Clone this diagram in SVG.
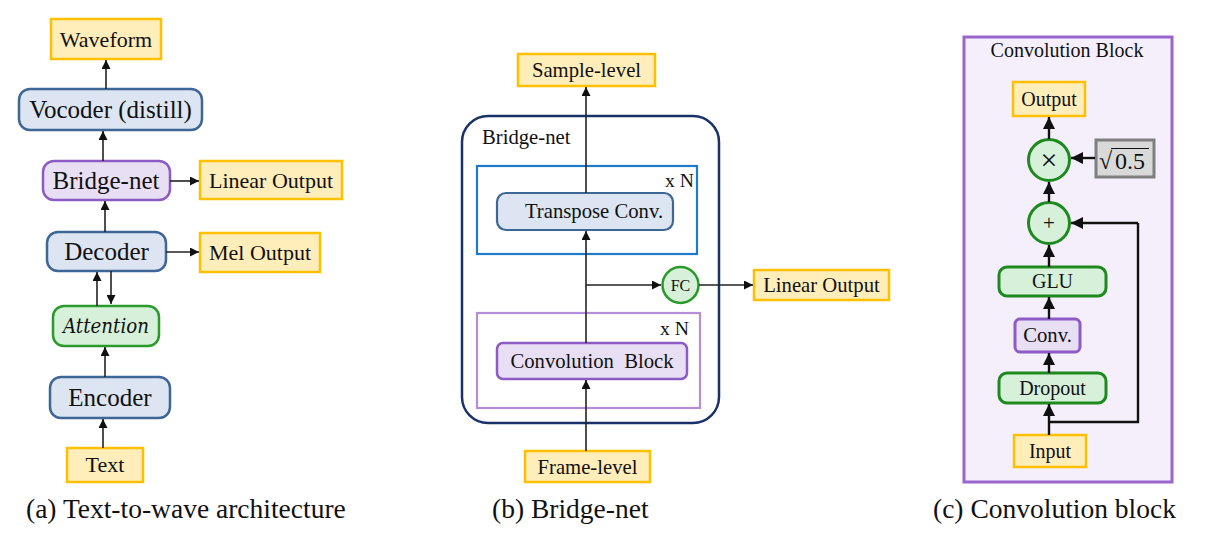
<svg xmlns="http://www.w3.org/2000/svg" width="1229" height="547" viewBox="0 0 1229 547">
<defs>
<marker id="ah" viewBox="0 0 10 10" refX="10" refY="5" markerWidth="9" markerHeight="9" markerUnits="userSpaceOnUse" orient="auto"><path d="M0,0 L10,5 L0,10 z" fill="#111"/></marker>
<marker id="ahc" viewBox="0 0 10 10" refX="10" refY="5" markerWidth="12" markerHeight="12" markerUnits="userSpaceOnUse" orient="auto"><path d="M0,0 L10,5 L0,10 z" fill="#111"/></marker>
<style>
text{font-family:"Liberation Serif","Times New Roman",serif;fill:#111;text-anchor:middle}
.y{fill:#FFEDBA;stroke:#FFC000;stroke-width:2.5}
.b{fill:#DCE5F1;stroke:#3E6796;stroke-width:2.5}
.p{fill:#E9DFF4;stroke:#8C5BC4;stroke-width:2.5}
.g{fill:#D6F0DA;stroke:#2A9A2A;stroke-width:2.5}
.gc{fill:#D6F0DA;stroke:#1E8A1E;stroke-width:3}
.ln{fill:none;stroke:#222;stroke-width:1.6;marker-end:url(#ah)}
.lnc{fill:none;stroke:#111;stroke-width:2.4;marker-end:url(#ahc)}
.lnn{fill:none;stroke:#111;stroke-width:2.4}
.t25{font-size:25px}.t22{font-size:22px}.t21{font-size:20.7px}.t20{font-size:20px}.cap{font-size:27.5px;text-anchor:start}
</style>
</defs>
<rect width="1229" height="547" fill="#fff"/>

<!-- Panel (a) -->
<g id="a-waveform"><rect class="y" x="51" y="19" width="110" height="40"/><text class="t22" x="106" y="47">Waveform</text></g>
<g id="a-vocoder"><rect class="b" x="19" y="89" width="183" height="41" rx="11"/><text class="t25" x="110.5" y="118">Vocoder (distill)</text></g>
<g id="a-bridgenet"><rect class="p" x="43" y="161" width="127" height="39" rx="11"/><text class="t25" x="106" y="189">Bridge-net</text></g>
<g id="a-linear"><rect class="y" x="200" y="161" width="142" height="38"/><text class="t22" x="271" y="188">Linear Output</text></g>
<g id="a-decoder"><rect class="b" x="47" y="232" width="119" height="39" rx="11"/><text class="t25" x="106.5" y="260">Decoder</text></g>
<g id="a-mel"><rect class="y" x="200" y="233" width="120" height="39"/><text class="t22" x="260" y="260">Mel Output</text></g>
<g id="a-attention"><rect class="g" x="53" y="306" width="106" height="40" rx="11"/><text x="106" y="333" style="font-size:21px;font-style:italic;font-family:'DejaVu Serif','Liberation Serif',serif" textLength="86" lengthAdjust="spacingAndGlyphs">Attention</text></g>
<g id="a-encoder"><rect class="b" x="50" y="377" width="120" height="41" rx="11"/><text class="t25" x="110" y="406">Encoder</text></g>
<g id="a-text"><rect class="y" x="67" y="448" width="76" height="34"/><text class="t22" x="105" y="472">Text</text></g>
<text class="cap" x="26" y="518">(a) Text-to-wave architecture</text>

<!-- Panel (b) -->
<g id="b-bridge-outer"><rect x="462" y="116" width="257" height="307" rx="26" fill="#fff" stroke="#1A326A" stroke-width="2.5"/><text class="t21" x="482" y="144" style="text-anchor:start">Bridge-net</text></g>
<g id="b-trans-group"><rect x="477" y="166" width="220" height="88" fill="none" stroke="#1F7BC9" stroke-width="2.2"/><text x="694" y="187" style="font-size:19.7px;text-anchor:end">x N</text></g>
<g id="b-transpose"><rect class="b" x="497" y="193" width="176" height="37" rx="9" style="stroke-width:2.2"/><text class="t21" x="594" y="218">Transpose Conv.</text></g>
<g id="b-conv-group"><rect x="477" y="313" width="223" height="95" fill="none" stroke="#B48ED8" stroke-width="2.2"/><text x="689" y="335" style="font-size:19.7px;text-anchor:end">x N</text></g>
<g id="b-convblock"><rect class="p" x="497" y="343" width="190" height="36" rx="6" style="stroke-width:2.5"/><text class="t21" x="592" y="368" xml:space="preserve">Convolution  Block</text></g>
<g id="b-sample"><rect class="y" x="518" y="54" width="137" height="32"/><text class="t21" x="586.5" y="77">Sample-level</text></g>
<g id="b-frame"><rect class="y" x="525" y="451" width="125" height="31"/><text class="t21" x="587.5" y="474">Frame-level</text></g>
<g id="b-fc"><circle class="g" cx="680.5" cy="285" r="18"/><text x="680.5" y="291" style="font-size:16px">FC</text></g>
<g id="b-linear"><rect class="y" x="754" y="270" width="135" height="30"/><text class="t21" x="821.5" y="292">Linear Output</text></g>
<text class="cap" x="492" y="518">(b) Bridge-net</text>

<!-- Panel (c) -->
<g id="c-outer"><rect x="964" y="37" width="208" height="445" fill="#F5EFFC" stroke="#9A65CC" stroke-width="3"/><text class="t20" x="1067" y="57">Convolution Block</text></g>
<g id="c-output"><rect class="y" x="1013" y="82" width="72" height="34"/><text class="t20" x="1049" y="106">Output</text></g>
<g id="c-mul"><circle class="gc" cx="1049" cy="160" r="20.5"/><text x="1049" y="169.5" style="font-size:30px">×</text></g>
<g id="c-sqrt"><rect x="1096" y="140" width="58" height="37" fill="#D9D9D9" stroke="#7F7F7F" stroke-width="3"/><text x="1099" y="169" style="font-size:24px;text-anchor:start">√</text><line x1="1111" y1="148.5" x2="1149" y2="148.5" stroke="#111" stroke-width="1.2"/><text x="1130" y="169" style="font-size:24px">0.5</text></g>
<g id="c-add"><circle class="gc" cx="1049" cy="223" r="20.5"/><text x="1049" y="230" style="font-size:21px">+</text></g>
<g id="c-glu"><rect class="gc" x="999" y="267" width="107" height="29" rx="8"/><text class="t20" x="1052.5" y="288">GLU</text></g>
<g id="c-conv"><rect class="p" x="1015" y="319" width="65" height="33" rx="5" style="stroke-width:3"/><text class="t21" x="1047.5" y="342">Conv.</text></g>
<g id="c-dropout"><rect class="gc" x="999" y="373" width="107" height="30" rx="8"/><text class="t20" x="1052.5" y="395">Dropout</text></g>
<g id="c-input"><rect class="y" x="1014" y="435" width="72" height="32"/><text class="t20" x="1050" y="458">Input</text></g>
<text class="cap" x="933" y="518">(c) Convolution block</text>

<!-- Connectors -->
<g id="connectors">
<line class="ln" x1="106" y1="89" x2="106" y2="60"/>
<line class="ln" x1="103" y1="161" x2="103" y2="131"/>
<line class="ln" x1="170" y1="181" x2="199" y2="181"/>
<line class="ln" x1="105" y1="232" x2="105" y2="201"/>
<line class="ln" x1="166" y1="252" x2="199" y2="252"/>
<line class="ln" x1="97" y1="306" x2="97" y2="272"/>
<line class="ln" x1="111" y1="271" x2="111" y2="304"/>
<line class="ln" x1="105" y1="377" x2="105" y2="347"/>
<line class="ln" x1="103" y1="448" x2="103" y2="419"/>

<line class="ln" x1="586" y1="193" x2="586" y2="87"/>
<line class="ln" x1="586" y1="343" x2="586" y2="231"/>
<line class="ln" x1="586" y1="285" x2="661" y2="285"/>
<line class="ln" x1="699" y1="285" x2="753" y2="285"/>
<line class="ln" x1="586" y1="451" x2="586" y2="380"/>

<line class="lnc" x1="1049" y1="139" x2="1049" y2="117"/>
<line class="lnc" x1="1095" y1="158" x2="1071" y2="158"/>
<line class="lnc" x1="1049" y1="202" x2="1049" y2="182"/>
<line class="lnc" x1="1049" y1="267" x2="1049" y2="245"/>
<line class="lnc" x1="1049" y1="319" x2="1049" y2="297"/>
<line class="lnc" x1="1049" y1="373" x2="1049" y2="353"/>
<line class="lnc" x1="1049" y1="435" x2="1049" y2="404"/>
<polyline class="lnn" points="1049,422 1138,422 1138,223"/>
<line class="lnc" x1="1138" y1="223" x2="1071" y2="223"/>
</g>
</svg>
